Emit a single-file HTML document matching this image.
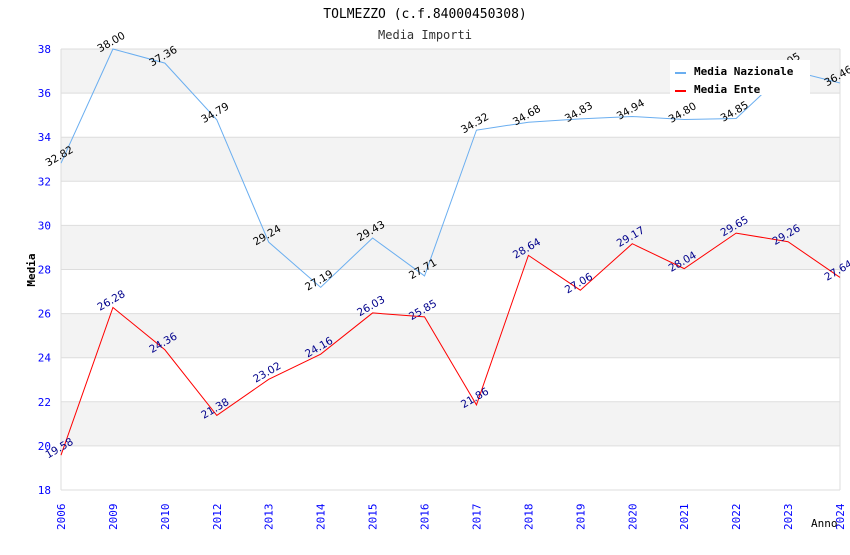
<!DOCTYPE html>
<html><head><meta charset="utf-8"><style>
body{margin:0;background:#fff}
svg text{font-family:"DejaVu Sans Mono","Liberation Mono",monospace}
svg text.val{font-family:"DejaVu Sans","Liberation Sans",sans-serif}
</style></head><body>
<svg id="c" width="850" height="550" xmlns="http://www.w3.org/2000/svg">
<text x="425" y="18" text-anchor="middle" font-size="13" fill="#000">TOLMEZZO (c.f.84000450308)</text>
<text x="425" y="39" text-anchor="middle" font-size="12" fill="#333">Media Importi</text>
<g id="bands"></g><g id="grid"></g><g id="axes"></g><g id="series"></g>
<text transform="translate(35,270) rotate(-90)" text-anchor="middle" font-size="11" font-weight="bold">Media</text>
<text x="811" y="527" font-size="11">Anno</text>
<g>
<rect x="670" y="60" width="140" height="35" fill="#fff"/>
<line x1="675" y1="73" x2="686" y2="73" stroke="#6aaef0" stroke-width="2"/>
<text x="694" y="75" font-size="11" font-weight="bold">Media Nazionale</text>
<line x1="675" y1="91" x2="686" y2="91" stroke="red" stroke-width="2"/>
<text x="694" y="93" font-size="11" font-weight="bold">Media Ente</text>
</g>
</svg>
<script>
const categories=["2006","2009","2010","2012","2013","2014","2015","2016","2017","2018","2019","2020","2021","2022","2023","2024"];
const nazionale=[32.82,38.00,37.36,34.79,29.24,27.19,29.43,27.71,34.32,34.68,34.83,34.94,34.80,34.85,37.05,36.46];
const ente=[19.58,26.28,24.36,21.38,23.02,24.16,26.03,25.85,21.86,28.64,27.06,29.17,28.04,29.65,29.26,27.64];
const yTicks=[18,20,22,24,26,28,30,32,34,36,38];
const NS="http://www.w3.org/2000/svg";
const L=61,R=840,T=49,B=490,yMin=18,yMax=38;
const x=i=>L+i*(R-L)/(categories.length-1);
const y=v=>B-(v-yMin)/(yMax-yMin)*(B-T);
function mk(p,t,a){const e=document.createElementNS(NS,t);for(const k in a)e.setAttribute(k,a[k]);document.getElementById(p).appendChild(e);return e;}
for(let i=0;i<yTicks.length-1;i++){
  if((yTicks.length-2-i)%2===0){const r=mk('bands','rect',{x:L,y:y(yTicks[i+1]),width:R-L,height:y(yTicks[i])-y(yTicks[i+1]),fill:'#f3f3f3'});
  
  }
}
yTicks.forEach(v=>{
  const g=mk('grid','line',{x1:L,x2:R,y1:y(v),y2:y(v),stroke:'#ddd'});
  
  
  const t=mk('axes','text',{x:L-10,y:y(v)+4,'text-anchor':'end','font-size':11,fill:'#00f'});
  t.textContent=v;
  
  
});
mk('axes','line',{x1:R,x2:R,y1:T,y2:B,stroke:'#ddd'});
mk('axes','line',{x1:L,x2:L,y1:T,y2:B,stroke:'#ddd'});
categories.forEach((c,i)=>{
  const t=mk('axes','text',{transform:`translate(${x(i)+4},${B+40}) rotate(-90)`,'font-size':11,fill:'#00f'});
  t.textContent=c;
  
  
});
function series(vals,color,lblColor,name){
  const p=mk('series','polyline',{points:vals.map((v,i)=>x(i)+','+y(v)).join(' '),fill:'none',stroke:color,'stroke-width':1});
  
  
  vals.forEach((v,i)=>{
    const t=mk('series','text',{class:'val',transform:`translate(${x(i)},${y(v)-4}) rotate(-30)`,'text-anchor':'middle','font-size':10.5,fill:lblColor});
    t.textContent=v.toFixed(2);
    
    
  });
}
series(nazionale,'#6aaef0','#000','nazionale');
series(ente,'#f00','#00008b','ente');
</script>
</body></html>
